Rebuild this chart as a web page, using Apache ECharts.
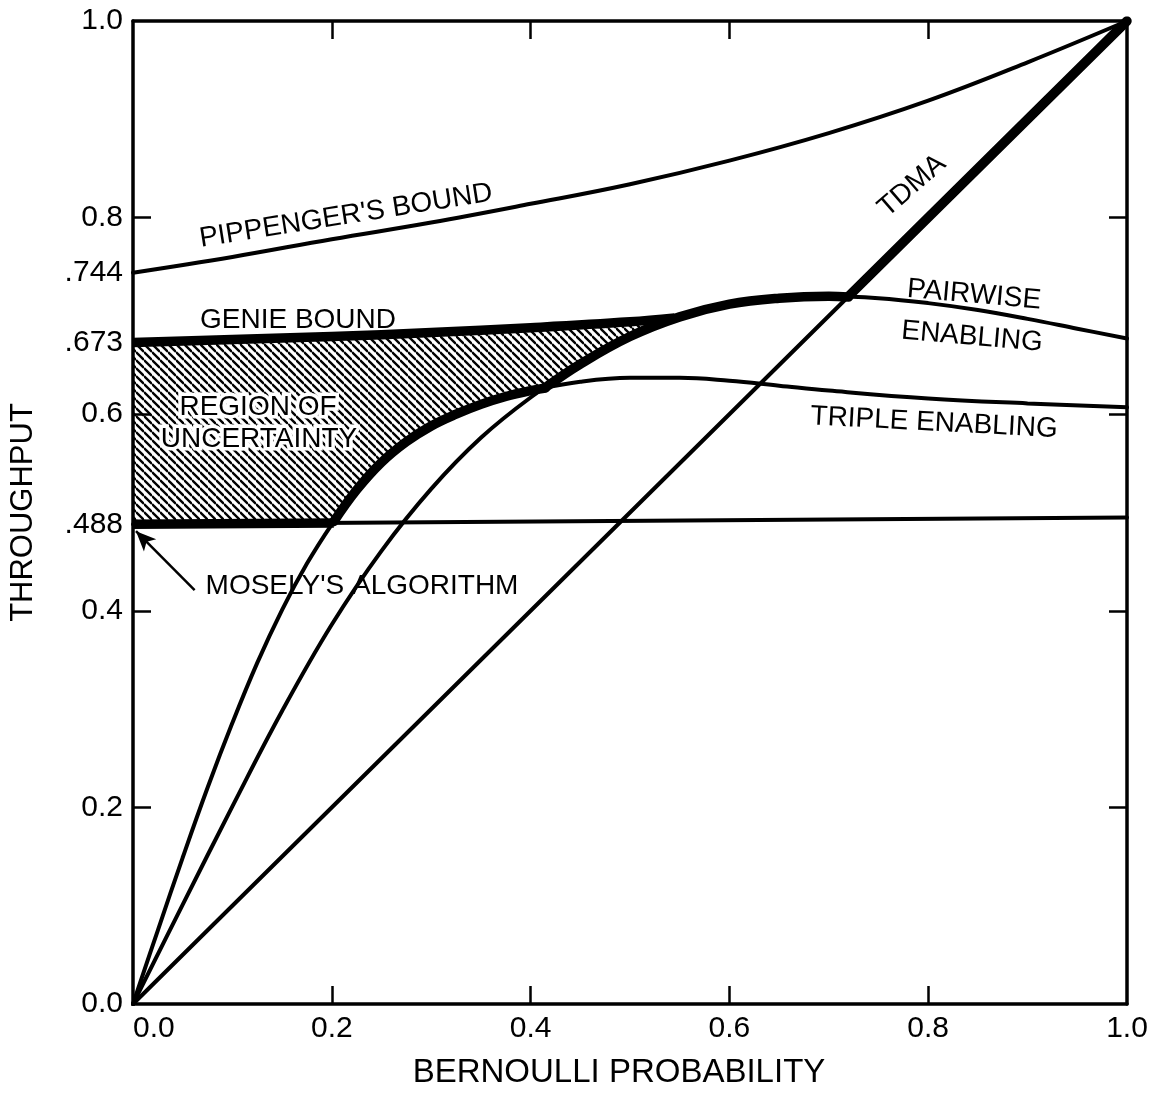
<!DOCTYPE html>
<html>
<head>
<meta charset="UTF-8">
<title>Throughput vs Bernoulli probability</title>
<script src="https://cdn.jsdelivr.net/npm/echarts@6/dist/echarts.min.js"></script>
<style>
  html, body { margin: 0; padding: 0; background: #fff; }
  #main { width: 1151px; height: 1100px; }
</style>
</head>
<body>
<div id="main"></div>
<script type="text/javascript">
// curves (x = Bernoulli probability, y = throughput)
var pippengerX = [0, 0.1, 0.2, 0.3, 0.4, 0.5, 0.6, 0.7, 0.8, 0.9, 1.0];
var pippengerY = [0.744, 0.760, 0.778, 0.795, 0.814, 0.834, 0.858, 0.886, 0.919, 0.958, 1.0];

var genieX = [0, 0.1, 0.2, 0.3, 0.4, 0.5, 0.545];
var genieY = [0.673, 0.676, 0.679, 0.683, 0.688, 0.694, 0.698];

var pairwiseX = [0, 0.05, 0.1, 0.15, 0.2, 0.25, 0.3, 0.35, 0.4, 0.45, 0.5, 0.55, 0.6, 0.65, 0.7, 0.75, 0.8, 0.85, 0.9, 0.95, 1.0];
var pairwiseY = [0, 0.101, 0.201, 0.298, 0.386, 0.461, 0.524, 0.576, 0.617, 0.651, 0.679, 0.699, 0.712, 0.718, 0.720, 0.718, 0.713, 0.706, 0.697, 0.687, 0.677];

var tripleX = [0, 0.025, 0.05, 0.075, 0.1, 0.125, 0.15, 0.175, 0.2, 0.225, 0.25, 0.275, 0.3, 0.325, 0.35, 0.375, 0.4, 0.45, 0.5, 0.55, 0.6, 0.65, 0.7, 0.8, 0.9, 1.0];
var tripleY = [0, 0.075, 0.149, 0.220, 0.286, 0.347, 0.401, 0.448, 0.488, 0.523, 0.551, 0.572, 0.588, 0.600, 0.610, 0.618, 0.624, 0.633, 0.637, 0.637, 0.634, 0.629, 0.624, 0.616, 0.611, 0.607];

var moselyX = [0, 1];
var moselyY = [0.488, 0.495];

var tdmaX = [0, 1];
var tdmaY = [0, 1];

var yLabelValues = [0, 0.2, 0.4, 0.488, 0.6, 0.673, 0.744, 0.8, 1.0];
var yLabelTexts = ['0.0', '0.2', '0.4', '.488', '0.6', '.673', '.744', '0.8', '1.0'];
var tickValues = [0.2, 0.4, 0.6, 0.8];

var FONT = 'Liberation Sans';

function pairs(xs, ys) {
    return xs.map(function (x, i) { return [x, ys[i]]; });
}

function interp(xs, ys, x) {
    for (var i = 1; i < xs.length; i++) {
        if (x <= xs[i]) {
            var t = (x - xs[i - 1]) / (xs[i] - xs[i - 1]);
            return ys[i - 1] + t * (ys[i] - ys[i - 1]);
        }
    }
    return ys[ys.length - 1];
}

// first x in [lo, hi] where curve a crosses curve b
function crossing(ax, ay, bx, by, lo, hi) {
    var prev = null;
    for (var x = lo; x <= hi; x += 0.001) {
        var d = interp(ax, ay, x) - interp(bx, by, x);
        if (prev !== null && (d > 0) !== (prev > 0)) return x;
        prev = d;
    }
    return hi;
}

// piece of a curve between a and b
function seg(xs, ys, a, b) {
    var out = [[a, interp(xs, ys, a)]];
    xs.forEach(function (x, i) {
        if (x > a + 0.005 && x < b - 0.005) out.push([x, ys[i]]);
    });
    out.push([b, interp(xs, ys, b)]);
    return out;
}

var c1 = crossing(tripleX, tripleY, moselyX, moselyY, 0.1, 0.3);
var c2 = crossing(pairwiseX, pairwiseY, tripleX, tripleY, 0.35, 0.5);
var c3 = crossing(tdmaX, tdmaY, pairwiseX, pairwiseY, 0.6, 0.85);
var genieEnd = genieX[genieX.length - 1];

var lowerEdge = [].concat(
    seg(moselyX, moselyY, 0, c1),
    seg(tripleX, tripleY, c1, c2),
    seg(pairwiseX, pairwiseY, c2, genieEnd)
);
var hatchPoly = pairs(genieX, genieY).concat(lowerEdge.slice().reverse());

// diagonal hatch tile
var tile = document.createElement('canvas');
tile.width = 8; tile.height = 8;
var tctx = tile.getContext('2d');
tctx.strokeStyle = '#000';
tctx.lineWidth = 2.3;
[-1, 0, 1].forEach(function (k) {
    tctx.beginPath();
    tctx.moveTo(0, k * 8);
    tctx.lineTo(8, 8 + k * 8);
    tctx.stroke();
});

function thin(name, data) {
    return {
        name: name, type: 'line', data: data, smooth: 0.4, symbol: 'none', z: 3,
        lineStyle: { color: '#000', width: 4, cap: 'round' }
    };
}
function thick(name, data, cap) {
    return {
        name: name, type: 'line', data: data, smooth: 0.4, symbol: 'none', z: 4,
        lineStyle: { color: '#000', width: 9.5, cap: cap || 'round', join: 'round' }
    };
}

var axisLine = { show: true, onZero: false, lineStyle: { color: '#000', width: 3.5 } };
var axisTick = { show: true, inside: true, length: 18, customValues: tickValues, lineStyle: { color: '#000', width: 2.5 } };

var myChart = echarts.init(document.getElementById('main'));
myChart.setOption({
    animation: false,
    backgroundColor: '#fff',
    grid: { left: 133, right: 24, top: 21, bottom: 96 },
    xAxis: [{
        type: 'value', min: 0, max: 1, interval: 0.2, position: 'bottom',
        axisLine: axisLine, axisTick: axisTick, splitLine: { show: false },
        axisLabel: {
            color: '#000', fontFamily: FONT, fontSize: 30, margin: 10, alignMinLabel: 'left',
            formatter: function (v) { return v.toFixed(1); }
        },
        name: 'BERNOULLI PROBABILITY', nameLocation: 'middle', nameGap: 52,
        nameTextStyle: { color: '#000', fontFamily: FONT, fontSize: 33, padding: [0, 22, 0, 0] }
    }, {
        type: 'value', min: 0, max: 1, interval: 0.2, position: 'top',
        axisLine: axisLine, axisTick: axisTick, splitLine: { show: false },
        axisLabel: { show: false }
    }],
    yAxis: [{
        type: 'value', min: 0, max: 1, interval: 0.2, position: 'left',
        axisLine: axisLine, axisTick: axisTick, splitLine: { show: false },
        axisLabel: {
            color: '#000', fontFamily: FONT, fontSize: 30, margin: 10,
            customValues: yLabelValues,
            formatter: function (v) {
                var best = 0;
                yLabelValues.forEach(function (t, i) {
                    if (Math.abs(t - v) < Math.abs(yLabelValues[best] - v)) best = i;
                });
                return yLabelTexts[best];
            }
        },
        name: 'THROUGHPUT', nameLocation: 'middle', nameGap: 94, nameRotate: 90,
        nameTextStyle: { color: '#000', fontFamily: FONT, fontSize: 31 }
    }, {
        type: 'value', min: 0, max: 1, interval: 0.2, position: 'right',
        axisLine: axisLine, axisTick: axisTick, splitLine: { show: false },
        axisLabel: { show: false }
    }],
    series: [
        {
            name: 'Region of uncertainty', type: 'custom', z: 1,
            data: [[0, 0]],
            renderItem: function (params, api) {
                return {
                    type: 'polygon',
                    shape: { points: hatchPoly.map(function (p) { return api.coord(p); }) },
                    style: { fill: { image: tile, repeat: 'repeat' }, stroke: null }
                };
            }
        },
        thin('Pippenger', pairs(pippengerX, pippengerY)),
        thin('TDMA', pairs(tdmaX, tdmaY)),
        thin('Pairwise enabling', pairs(pairwiseX, pairwiseY)),
        thin('Triple enabling', pairs(tripleX, tripleY)),
        Object.assign(thin('Mosely', pairs(moselyX, moselyY)), {
            markLine: {
                silent: true, symbol: ['none', 'arrow'], symbolSize: [13, 20],
                label: { show: false },
                lineStyle: { color: '#000', width: 2.5, type: 'solid' },
                data: [[{ coord: [0.062, 0.421] }, { coord: [0.003, 0.481] }]]
            }
        }),
        thick('Genie bound', pairs(genieX, genieY), 'butt'),
        thick('Mosely (best)', seg(moselyX, moselyY, 0, c1), 'butt'),
        thick('Triple (best)', seg(tripleX, tripleY, c1, c2)),
        thick('Pairwise (best)', seg(pairwiseX, pairwiseY, c2, c3)),
        thick('TDMA (best)', seg(tdmaX, tdmaY, c3, 1))
    ],
    graphic: [
        ['PIPPENGER\'S BOUND', 346, 216, 9],
        ['GENIE BOUND', 298, 320, 0],
        ['REGION OF', 258, 407, 0],
        ['UNCERTAINTY', 259, 439, 0],
        ['MOSELY\'S ALGORITHM', 362, 586, 0],
        ['TDMA', 912, 186, 41],
        ['PAIRWISE', 974, 295, -5],
        ['ENABLING', 972, 337, -5],
        ['TRIPLE ENABLING', 934, 423, -3]
    ].map(function (t) {
        var halo = t[1] < 300 && t[2] > 380 && t[2] < 460;
        return {
            type: 'text', x: t[1], y: t[2], rotation: t[3] * Math.PI / 180, z: 100,
            style: {
                text: t[0], font: '28px "' + FONT + '"', fill: '#000',
                align: 'center', verticalAlign: 'middle',
                stroke: halo ? '#fff' : null, lineWidth: halo ? 7 : 0
            }
        };
    })
});
</script>
</body>
</html>
